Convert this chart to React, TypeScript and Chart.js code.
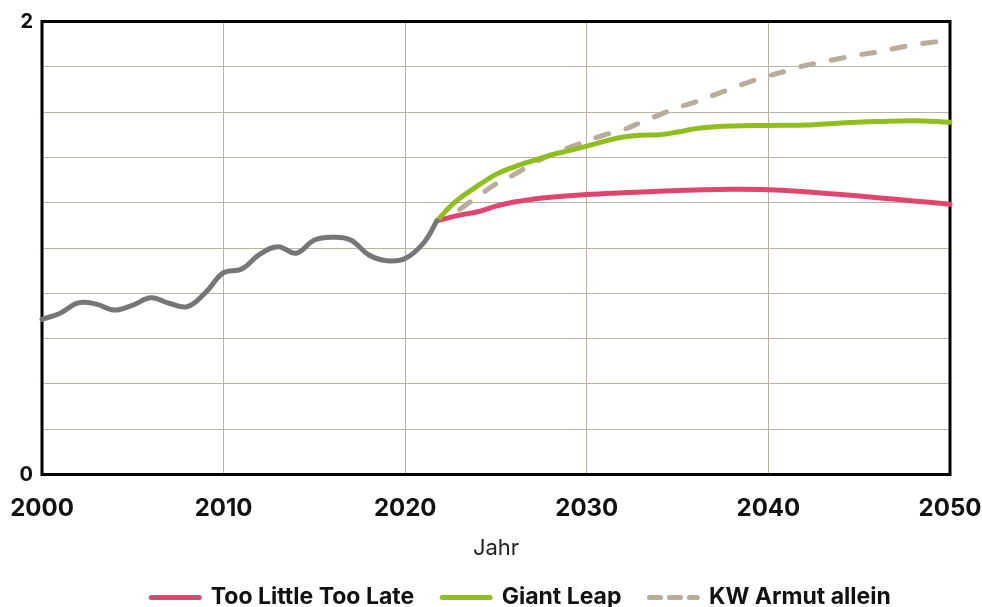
import React, { useEffect, useRef } from 'react';
import { Chart, registerables } from 'chart.js';

Chart.register(...registerables);

// ---- Data ----
const histYears = [2000, 2001, 2002, 2003, 2004, 2005, 2006, 2007, 2008, 2009, 2010, 2011, 2012, 2013, 2014, 2015, 2016, 2017, 2018, 2019, 2020, 2021, 2021.75];
const histValues = [0.685, 0.712, 0.758, 0.752, 0.726, 0.748, 0.78, 0.756, 0.741, 0.803, 0.891, 0.907, 0.973, 1.006, 0.977, 1.035, 1.047, 1.035, 0.969, 0.944, 0.954, 1.021, 1.12];

const tltlYears = [2021.75, 2023, 2024, 2025, 2026, 2027, 2028, 2030, 2032, 2034, 2036, 2038, 2040, 2042, 2044, 2046, 2048, 2050];
const tltlValues = [1.12, 1.145, 1.16, 1.185, 1.203, 1.215, 1.224, 1.236, 1.244, 1.251, 1.256, 1.259, 1.257, 1.248, 1.236, 1.222, 1.208, 1.193];

const glYears = [2021.75, 2022.5, 2023, 2024, 2025, 2026, 2027, 2028, 2029, 2030, 2031, 2032, 2033, 2034, 2035, 2036, 2037, 2038, 2040, 2042, 2044, 2046, 2048, 2050];
const glValues = [1.12, 1.185, 1.22, 1.275, 1.325, 1.358, 1.385, 1.41, 1.43, 1.45, 1.472, 1.49, 1.498, 1.5, 1.512, 1.527, 1.535, 1.539, 1.541, 1.543, 1.552, 1.558, 1.562, 1.555];

const kwYears = [2023, 2024, 2025, 2026, 2027, 2028, 2029, 2030, 2031, 2032, 2033, 2034, 2035, 2036, 2037, 2038, 2039, 2040, 2041, 2042, 2043, 2044, 2045, 2046, 2047, 2048, 2049, 2050];
const kwValues = [1.17, 1.228, 1.283, 1.324, 1.372, 1.41, 1.443, 1.472, 1.5, 1.522, 1.555, 1.588, 1.62, 1.645, 1.675, 1.705, 1.735, 1.76, 1.782, 1.805, 1.822, 1.838, 1.853, 1.865, 1.882, 1.897, 1.908, 1.917];

const seriesNames = ['Too Little Too Late', 'Giant Leap', 'KW Armut allein'];
const xTickValues = [2000, 2010, 2020, 2030, 2040, 2050];
const yLabeledTicks = [0, 2];
const xAxisTitle = 'Jahr';

// ---- Styles / layout ----
const COLORS = {
  hist: '#767676',
  tltl: '#e0456f',
  gl: '#8fbe1e',
  kw: '#b8ad9c',
  grid: '#bdb3a5',
  text: '#111111',
};
const FONT = 'Inter, "Liberation Sans", Arial, sans-serif';
const LEGEND_CENTER_X = 521;

const toPoints = (xs: number[], ys: number[]) => xs.map((x, i) => ({ x, y: ys[i] }));

const framePlugin = {
  id: 'frame',
  afterLayout(chart: any) {
    const lg = chart.legend;
    if (lg) {
      const dx = LEGEND_CENTER_X - (lg.left + lg.right) / 2;
      lg.left += dx;
      lg.right += dx;
    }
  },
  beforeDatasetsDraw(chart: any) {
    const { ctx, chartArea } = chart;
    const { left, top, right, bottom } = chartArea;
    ctx.save();
    ctx.strokeStyle = '#000';
    ctx.lineWidth = 3;
    ctx.strokeRect(left, top, right - left, bottom - top);
    ctx.restore();
  },
};

export default function App() {
  const ref = useRef<HTMLCanvasElement>(null);

  useEffect(() => {
    if (!ref.current) return;
    const common = {
      fill: false,
      pointRadius: 0,
      borderWidth: 5,
      tension: 0.4,
      borderCapStyle: 'round' as const,
      borderJoinStyle: 'round' as const,
      clip: false as any,
    };
    const chart = new Chart(ref.current, {
      type: 'line',
      data: {
        datasets: [
          { ...common, label: seriesNames[0], data: toPoints(tltlYears, tltlValues), borderColor: COLORS.tltl, backgroundColor: COLORS.tltl, order: 2 },
          { ...common, label: seriesNames[1], data: toPoints(glYears, glValues), borderColor: COLORS.gl, backgroundColor: COLORS.gl, order: 1 },
          { ...common, label: seriesNames[2], data: toPoints(kwYears, kwValues), borderColor: COLORS.kw, backgroundColor: COLORS.kw, borderDash: [13, 18], order: 3 },
          { ...common, label: 'Historisch', data: toPoints(histYears, histValues), borderColor: COLORS.hist, backgroundColor: COLORS.hist, order: 0 },
        ],
      },
      options: {
        animation: false,
        responsive: false,
        events: [],
        layout: { padding: { left: 0, right: 32, top: 21.5, bottom: 0 } },
        scales: {
          x: {
            type: 'linear',
            min: 2000,
            max: 2050,
            afterBuildTicks: (s: any) => {
              s.ticks = xTickValues.map((v) => ({ value: v }));
            },
            afterFit: (s: any) => {
              s.height = 83.5;
            },
            grid: { color: COLORS.grid, lineWidth: 1, drawTicks: true, tickLength: 20, tickColor: 'rgba(0,0,0,0)' },
            border: { display: false },
            ticks: {
              padding: 0,
              maxRotation: 0,
              autoSkip: false,
              color: COLORS.text,
              font: { family: FONT, size: 24, weight: 'bold' },
              callback: (v: any) => String(v),
            },
            title: {
              display: true,
              text: xAxisTitle,
              color: '#222',
              font: { family: FONT, size: 22, weight: 'normal' },
              padding: { top: 0, bottom: -4 },
            },
          },
          y: {
            min: 0,
            max: 2,
            afterFit: (s: any) => {
              s.width = 42;
            },
            grid: { color: COLORS.grid, lineWidth: 1, drawTicks: false },
            border: { display: false },
            ticks: {
              stepSize: 0.2,
              padding: 9,
              autoSkip: false,
              color: COLORS.text,
              font: { family: FONT, size: 20, weight: 'bold' },
              callback: (v: any) => {
                const hit = yLabeledTicks.find((t) => Math.abs(t - Number(v)) < 1e-6);
                return hit !== undefined ? String(hit) : '';
              },
            },
          },
        },
        plugins: {
          tooltip: { enabled: false },
          legend: {
            position: 'bottom',
            align: 'center',
            labels: {
              usePointStyle: true,
              pointStyleWidth: 48,
              padding: 28,
              color: COLORS.text,
              font: { family: FONT, size: 23, weight: 'bold' },
              generateLabels: (c: any) =>
                c.data.datasets.slice(0, 3).map((ds: any, i: number) => ({
                  text: ds.label,
                  fillStyle: ds.borderColor,
                  strokeStyle: ds.borderColor,
                  fontColor: COLORS.text,
                  lineWidth: 5,
                  lineCap: 'round',
                  lineDash: i === 2 ? [11, 9] : [],
                  pointStyle: 'line',
                  hidden: false,
                  datasetIndex: i,
                })),
            },
          },
        },
      } as any,
      plugins: [framePlugin],
    });
    return () => chart.destroy();
  }, []);

  return (
    <div style={{ position: 'fixed', left: 0, top: 0, width: 982, height: 607, overflow: 'hidden', background: '#fff' }}>
      <canvas ref={ref} width={982} height={619} style={{ display: 'block', width: 982, height: 619 }} />
    </div>
  );
}
